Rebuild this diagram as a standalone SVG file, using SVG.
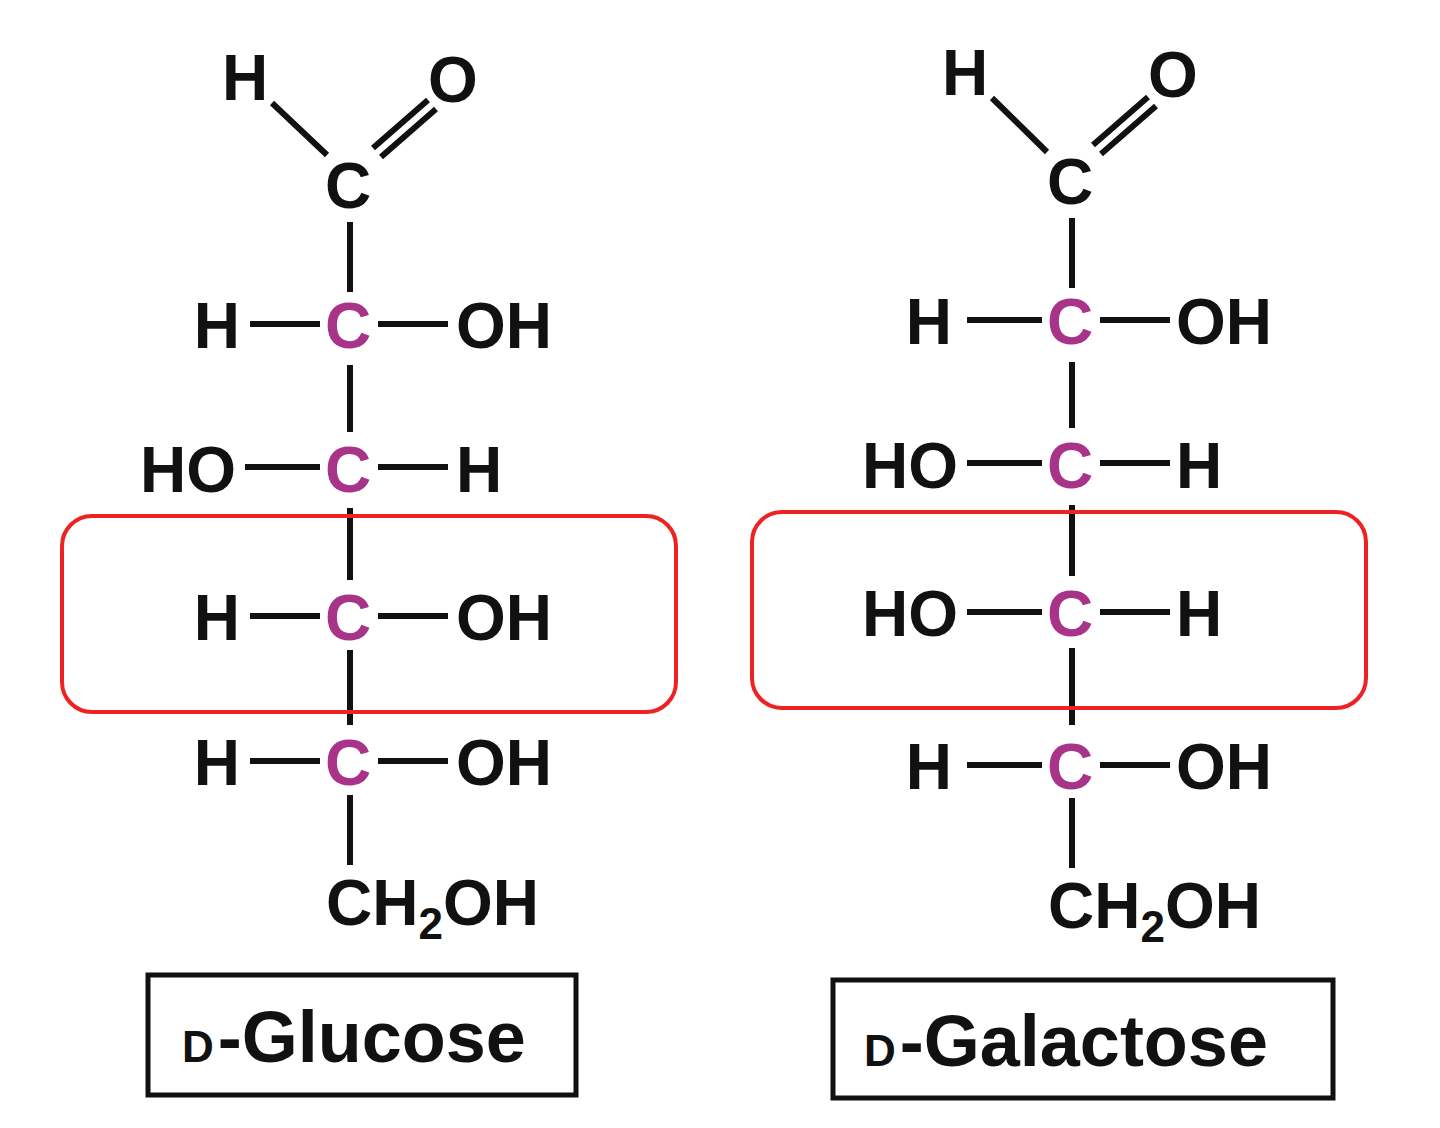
<svg xmlns="http://www.w3.org/2000/svg" width="1440" height="1128" viewBox="0 0 1440 1128">
<style>
text{font-family:"Liberation Sans",Arial,sans-serif;font-weight:bold;font-size:64px;fill:#111}
.c{fill:#a8348a}
.b{stroke:#111;stroke-width:6;fill:none}
.red{stroke:#ee2222;stroke-width:4;fill:none}
.lbl{stroke:#111;stroke-width:5;fill:none}
.sc{font-size:44px}
.nm{font-size:72px}
</style>
<rect width="1440" height="1128" fill="#fff"/>
<g id="connectors">
<path class="b" d="M272,103 L327,155 M373,148 L428,100 M381,157 L436,109 M350,222 V292 M250,324 H320 M378,324 H448 M350,365 V432 M245,467 H320 M378,467 H448 M350,508 V580 M250,616 H320 M378,616 H448 M350,650 V725 M250,761 H320 M378,761 H448 M350,795 V865"/>
<path class="b" d="M992,98 L1047,152 M1093,145 L1148,97 M1101,154 L1156,106 M1072,218 V288 M967,320 H1042 M1100,320 H1170 M1072,362 V428 M967,463 H1042 M1100,463 H1170 M1072,505 V576 M967,612 H1042 M1100,612 H1170 M1072,648 V725 M967,765 H1042 M1100,765 H1170 M1072,798 V868"/>
</g>
<g id="glucose">
<text x="222" y="100">H</text><text x="428" y="102">O</text>
<text x="348" y="208" text-anchor="middle">C</text>
<text x="240" y="348" text-anchor="end">H</text><text class="c" x="348" y="348" text-anchor="middle">C</text><text x="456" y="348">OH</text>
<text x="236" y="492" text-anchor="end">HO</text><text class="c" x="348" y="492" text-anchor="middle">C</text><text x="456" y="492">H</text>
<text x="240" y="640" text-anchor="end">H</text><text class="c" x="348" y="640" text-anchor="middle">C</text><text x="456" y="640">OH</text>
<text x="240" y="785" text-anchor="end">H</text><text class="c" x="348" y="785" text-anchor="middle">C</text><text x="456" y="785">OH</text>
<text x="326" y="925">CH<tspan font-size="44" dy="14">2</tspan><tspan dy="-14">OH</tspan></text>
<rect class="red" x="62" y="516" width="614" height="196" rx="30"/>
</g>
<g id="galactose">
<text x="942" y="95">H</text><text x="1148" y="97">O</text>
<text x="1070" y="204" text-anchor="middle">C</text>
<text x="952" y="344" text-anchor="end">H</text><text class="c" x="1070" y="344" text-anchor="middle">C</text><text x="1176" y="344">OH</text>
<text x="958" y="488" text-anchor="end">HO</text><text class="c" x="1070" y="488" text-anchor="middle">C</text><text x="1176" y="488">H</text>
<text x="958" y="636" text-anchor="end">HO</text><text class="c" x="1070" y="636" text-anchor="middle">C</text><text x="1176" y="636">H</text>
<text x="952" y="789" text-anchor="end">H</text><text class="c" x="1070" y="789" text-anchor="middle">C</text><text x="1176" y="789">OH</text>
<text x="1048" y="928">CH<tspan font-size="44" dy="14">2</tspan><tspan dy="-14">OH</tspan></text>
<rect class="red" x="752" y="512" width="614" height="196" rx="30"/>
</g>
<g id="label-glucose">
<rect class="lbl" x="148" y="975" width="428" height="120"/>
<text x="182" y="1062"><tspan class="sc">D</tspan><tspan class="nm" dx="4">-Glucose</tspan></text>
</g>
<g id="label-galactose">
<rect class="lbl" x="833" y="980" width="500" height="118"/>
<text x="864" y="1066"><tspan class="sc">D</tspan><tspan class="nm" dx="4">-Galactose</tspan></text>
</g>
</svg>
